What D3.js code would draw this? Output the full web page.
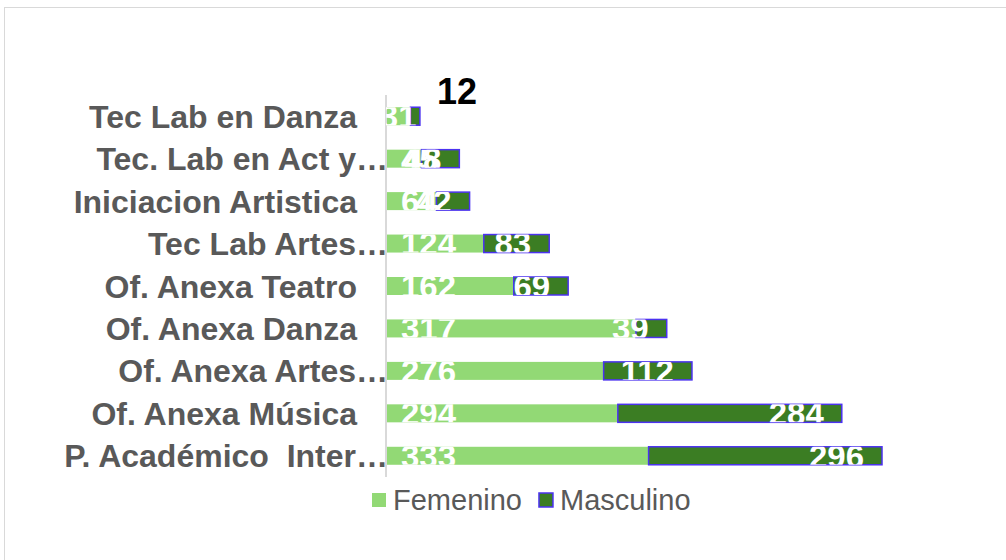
<!DOCTYPE html>
<html>
<head>
<meta charset="utf-8">
<script src="https://cdn.jsdelivr.net/npm/d3@7"></script>
<style>
  html, body { margin: 0; padding: 0; background: #fff; }
  svg { display: block; font-family: "Liberation Sans", Arial, sans-serif; }
</style>
</head>
<body>
<svg id="chart" width="1006" height="560"></svg>
<script>
const categories = [
  "Tec Lab en Danza",
  "Tec. Lab en Act y…",
  "Iniciacion Artistica",
  "Tec Lab Artes…",
  "Of. Anexa Teatro",
  "Of. Anexa Danza",
  "Of. Anexa Artes…",
  "Of. Anexa Música",
  "P. Académico  Inter…"
];
const femenino = [31, 45, 64, 124, 162, 317, 276, 294, 333];
const masculino = [12, 48, 42, 83, 69, 39, 112, 284, 296];
const seriesNames = ["Femenino", "Masculino"];

const colors = { fem: "#92D975", masc: "#3B7D23", mascStroke: "#4B32F0", text: "#595959", axis: "#D9D9D9" };

const svg = d3.select("#chart");

// chart area border
svg.append("rect").attr("x", 4.5).attr("y", 7.5).attr("width", 1010).attr("height", 560)
  .attr("fill", "none").attr("stroke", colors.axis).attr("stroke-width", 1);

const x = d3.scaleLinear().domain([0, 700]).range([386, 938]);
const y = d3.scaleBand().domain(categories).range([95, 477]).paddingInner(0.576).paddingOuter(0.288);

const rows = categories.map((c, i) => ({ cat: c, f: femenino[i], m: masculino[i], i }));

const defs = svg.append("defs");
rows.forEach(d => {
  defs.append("clipPath").attr("id", "clip" + d.i)
    .append("rect").attr("x", x(0)).attr("y", y(d.cat)).attr("width", 1006 - x(0)).attr("height", y.bandwidth());
});

// bars
const g = svg.append("g");
g.selectAll("rect.fem").data(rows).join("rect").attr("class", "fem")
  .attr("x", x(0)).attr("y", d => y(d.cat))
  .attr("width", d => x(d.f) - x(0)).attr("height", y.bandwidth())
  .attr("fill", colors.fem);
g.selectAll("rect.masc").data(rows).join("rect").attr("class", "masc")
  .attr("x", d => x(d.f)).attr("y", d => y(d.cat))
  .attr("width", d => x(d.f + d.m) - x(d.f)).attr("height", y.bandwidth())
  .attr("fill", colors.masc).attr("stroke", colors.mascStroke).attr("stroke-width", 1.5);

// axis line
svg.append("line").attr("x1", x(0)).attr("x2", x(0)).attr("y1", 95).attr("y2", 477)
  .attr("stroke", colors.axis).attr("stroke-width", 2);

// category labels
const yAxis = d3.axisLeft(y).tickSize(0).tickPadding(0);
const ax = svg.append("g").attr("transform", `translate(${x(0)},0)`).call(yAxis);
ax.select(".domain").remove();
ax.selectAll("text")
  .attr("font-size", 32).attr("font-weight", "bold").attr("fill", colors.text)
  .attr("font-family", "Liberation Sans, Arial, sans-serif")
  .attr("text-anchor", "end")
  .style("white-space", "pre")
  .attr("x", d => d.endsWith("…") ? 2 : -29)
  .attr("dy", "0.36em");

// value labels
const labelSize = 33;
const digitW = labelSize * 0.556;
const vl = svg.append("g").attr("font-size", labelSize).attr("font-weight", "bold").attr("fill", "#fff");
rows.forEach(d => {
  const cy = y(d.cat) + y.bandwidth() / 2;
  const fw = String(d.f).length * digitW;
  const barW = x(d.f) - x(0);
  const narrow = barW < fw * 0.75;
  vl.append("text").attr("clip-path", `url(#clip${d.i})`)
    .attr("x", narrow ? (x(0) + x(d.f)) / 2 : x(0) + 15).attr("y", cy).attr("dy", "0.36em")
    .attr("text-anchor", narrow ? "middle" : "start")
    .text(d.f);
  if (d.i === 0) {
    svg.append("text").attr("x", x(d.f + d.m) + 37).attr("y", y(d.cat) - 3)
      .attr("text-anchor", "middle").attr("font-size", 36).attr("font-weight", "bold")
      .attr("fill", "#000").text(d.m);
  } else {
    vl.append("text").attr("clip-path", `url(#clip${d.i})`)
      .attr("x", x(d.f + d.m) - 18).attr("y", cy).attr("dy", "0.36em")
      .attr("text-anchor", "end").text(d.m);
  }
});

// legend
const leg = svg.append("g").attr("transform", "translate(372,500)");
let lx = 0;
seriesNames.forEach((name, i) => {
  const item = leg.append("g").attr("transform", `translate(${lx},0)`);
  item.append("rect").attr("x", 0).attr("y", -7).attr("width", 14).attr("height", 14)
    .attr("fill", i === 0 ? colors.fem : colors.masc)
    .attr("stroke", i === 0 ? "none" : colors.mascStroke).attr("stroke-width", 1.5);
  const t = item.append("text").attr("x", 21).attr("y", 0).attr("dy", "0.36em")
    .attr("font-size", 29).attr("fill", colors.text).text(name);
  lx += 21 + t.node().getComputedTextLength() + 17;
});
</script>
</body>
</html>
